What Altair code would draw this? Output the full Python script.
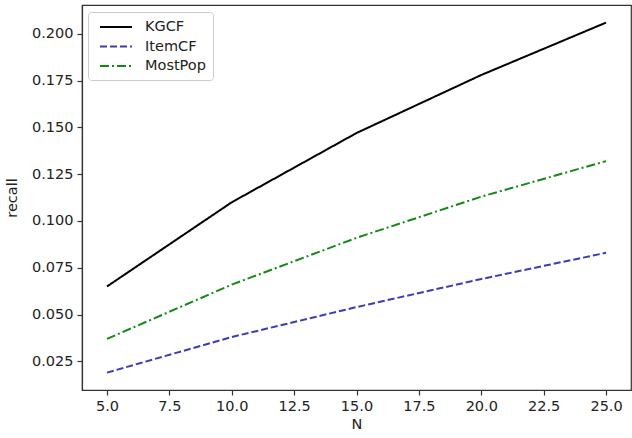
import altair as alt
import pandas as pd

N = [5, 10, 15, 20, 25]
kgcf = [0.065, 0.110, 0.147, 0.178, 0.206]
itemcf = [0.019, 0.038, 0.054, 0.069, 0.083]
mostpop = [0.037, 0.066, 0.091, 0.113, 0.132]
series = ["KGCF", "ItemCF", "MostPop"]
colors = ["#000000", "#3a3db5", "#138a13"]
dashes = [[1, 0], [7, 3], [9, 3, 2, 3]]
x_ticks = [5.0, 7.5, 10.0, 12.5, 15.0, 17.5, 20.0, 22.5, 25.0]
y_ticks = [0.025, 0.050, 0.075, 0.100, 0.125, 0.150, 0.175, 0.200]

rows = []
for name, vals in zip(series, [kgcf, itemcf, mostpop]):
    for n, v in zip(N, vals):
        rows.append({"N": n, "recall": v, "series": name})
df = pd.DataFrame(rows)

font = "DejaVu Sans"

chart = alt.Chart(df).mark_line(strokeWidth=2, clip=True).encode(
    x=alt.X("N:Q", scale=alt.Scale(domain=[4, 26], nice=False, zero=False),
            axis=alt.Axis(values=x_ticks, format=".1f", title="N", grid=False,
                          tickSize=5, labelPadding=4, titlePadding=5)),
    y=alt.Y("recall:Q", scale=alt.Scale(domain=[0.0097, 0.2154], nice=False, zero=False),
            axis=alt.Axis(values=y_ticks, format=".3f", title="recall", grid=False,
                          tickSize=5, labelPadding=4, titlePadding=12)),
    color=alt.Color("series:N", scale=alt.Scale(domain=series, range=colors),
                    legend=alt.Legend(title=None, orient="none", legendX=6, legendY=7,
                                      symbolType="M-0.43,0H4.14", symbolSize=196,
                                      symbolStrokeWidth=2, labelFontSize=14.5,
                                      labelFont=font, labelColor="#222222",
                                      padding=7, rowPadding=4.5,
                                      labelOffset=34,
                                      fillColor="white", strokeColor="#cccccc",
                                      cornerRadius=3)),
    strokeDash=alt.StrokeDash("series:N", scale=alt.Scale(domain=series, range=dashes),
                              legend=None),
).properties(
    width=549, height=385,
    padding={"left": 82, "top": 5, "right": 1, "bottom": 48},
    autosize=alt.AutoSizeParams(type="none"),
).configure_view(
    stroke="#333333", strokeWidth=1.2
).configure_axis(
    labelFont=font, titleFont=font, labelFontSize=14.5, titleFontSize=14.5,
    labelColor="#222222", titleColor="#222222", titleFontWeight="normal",
    domainColor="#333333", tickColor="#333333", domainWidth=1.2, tickWidth=1.2,
)

chart.save("out.html", embed_options={"renderer": "svg", "actions": False})
